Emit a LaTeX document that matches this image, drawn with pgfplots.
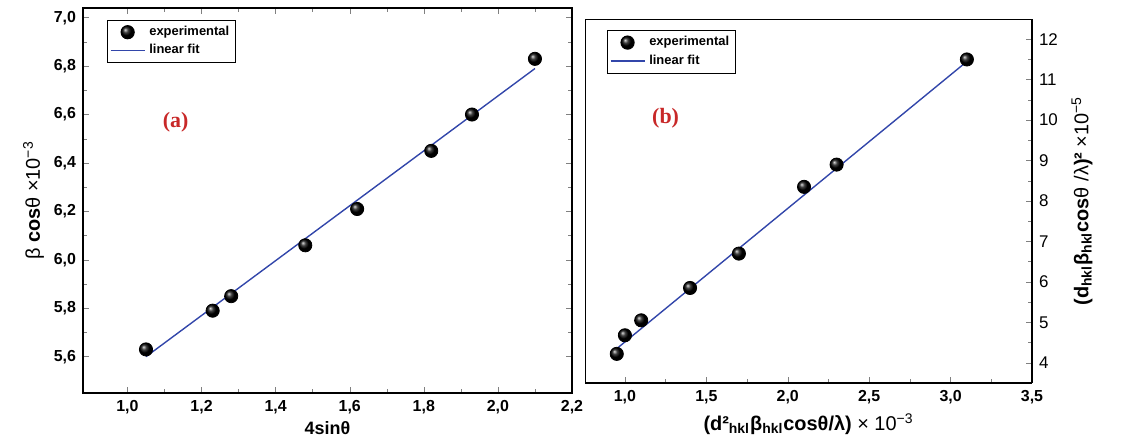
\documentclass[border=0pt]{standalone}
\usepackage{pgfplots}
\pgfplotsset{compat=1.18}
\usepackage{fontspec}
\setmainfont{Liberation Sans}
\newfontfamily\tnr{Liberation Serif}
\definecolor{fitblue}{RGB}{50,70,170}
\definecolor{lblred}{RGB}{200,40,40}
\begin{document}
\begin{tikzpicture}[x=1bp,y=1bp]
\path (0,0) rectangle (571.5,221.5);
\pgfplotsset{every axis/.append style={scale only axis,
  /pgf/number format/assume math mode=true,
  /pgf/number format/use comma,/pgf/number format/fixed,
  tick label style={font=\bfseries\fontsize{8}{9}\selectfont},
  tick align=inside, major tick length=3bp, minor tick length=1.8bp,
  legend style={font=\bfseries\fontsize{6.5}{7}\selectfont, draw=black, line width=0.5pt, inner sep=1pt, row sep=-1pt},
  legend cell align=left, axis line style={line width=0.8pt}}}
\begin{axis}[at={(41.5bp,25bp)}, anchor=south west, width=244.5bp, height=192.5bp,
  xmin=0.88, xmax=2.2, ymin=5.45, ymax=7.04,
  xtick={1.0,1.2,...,2.21}, ytick={5.6,5.8,...,7.01},
  xticklabel style={/pgf/number format/fixed zerofill,/pgf/number format/precision=1},
  yticklabel style={/pgf/number format/fixed zerofill,/pgf/number format/precision=1},
  minor x tick num=1, minor y tick num=1,
  xlabel={\bfseries\fontsize{9}{10}\selectfont 4sinθ},
  xlabel style={yshift=3bp},
  ylabel={\fontsize{10}{11}\selectfont β \textbf{cos}θ ×10\textsuperscript{−3}},
  ylabel style={yshift=-2bp},
  legend style={at={(0.05,0.97)}, anchor=north west}]
\addplot[only marks, mark=ball, mark size=3.3bp, ball color=black] coordinates {
(1.05,5.63)(1.23,5.79)(1.28,5.85)(1.48,6.06)(1.62,6.21)(1.82,6.45)(1.93,6.60)(2.10,6.83)};
\addlegendentry{experimental}
\addplot[fitblue, line width=0.7pt] coordinates {(1.05,5.60)(2.10,6.79)};
\addlegendentry{linear fit}
\node[font=\tnr\bfseries\fontsize{11}{12}\selectfont, text=lblred] at (axis cs:1.13,6.57) {(a)};
\end{axis}
\begin{axis}[at={(292.5bp,30bp)}, anchor=south west, width=223.5bp, height=182bp,
  xmin=0.755, xmax=3.5, ymin=3.5, ymax=12.5,
  xtick={1.0,1.5,...,3.51}, ytick={4,5,...,12},
  xticklabel style={/pgf/number format/fixed zerofill,/pgf/number format/precision=1},
  yticklabel style={font=\mdseries\fontsize{8.5}{9}\selectfont},
  minor x tick num=1, minor y tick num=1,
  axis y line*=right, axis x line*=bottom,
  xlabel={\fontsize{10}{11}\selectfont \textbf{(d²\textsubscript{hkl}β\textsubscript{hkl}cosθ/λ)} × 10\textsuperscript{−3}},
  xlabel style={yshift=2bp},
  ylabel={\fontsize{10}{11}\selectfont \textbf{(d\textsubscript{hkl}β\textsubscript{hkl}cos}θ /λ\textbf{)²} ×10\textsuperscript{−5}},
  legend style={at={(0.05,0.97)}, anchor=north west}]
\draw[line width=0.8pt] (rel axis cs:0,0) -- (rel axis cs:0,1) -- (rel axis cs:1,1);
\addplot[only marks, mark=ball, mark size=3.3bp, ball color=black] coordinates {
(0.95,4.22)(1.0,4.68)(1.1,5.05)(1.4,5.85)(1.7,6.70)(2.1,8.35)(2.3,8.90)(3.1,11.50)};
\addlegendentry{experimental}
\addplot[fitblue, line width=0.7pt] coordinates {(0.95,4.35)(3.10,11.45)};
\addlegendentry{linear fit}
\node[font=\tnr\bfseries\fontsize{11}{12}\selectfont, text=lblred] at (axis cs:1.25,10.05) {(b)};
\end{axis}
\end{tikzpicture}
\end{document}
